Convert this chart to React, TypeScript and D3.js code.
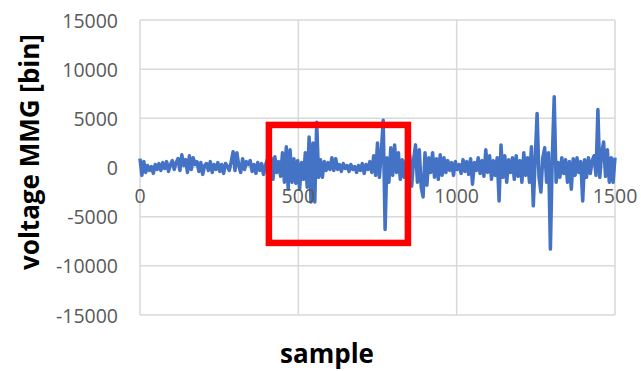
import { useEffect, useRef } from "react";
import * as d3 from "d3";

// one reading every 6 samples, 0..1500
const sampleStep = 6;
const voltage = [
  900, -800, 600, -500, 200, -300, 100, -600, 300, -200,
  400, -300, 500, -100, 600, -400, 300, 700, -200, 500,
  900, -300, 1300, 200, 800, -500, 1200, -200, 1000, 300,
  600, -400, 500, -700, 200, 400, -300, 600, -500, 300,
  -200, 500, -400, 300, -600, 400, 100, -300, 600, 1600,
  -300, 1500, 200, -500, 900, -200, 600, 300, 700, -400,
  300, -600, 500, -300, 400, -700, 200, 800, -1000, 1000,
  -1200, 1100, -500, 600, -900, 1500, -1500, 2100, -2200, 1800,
  -1500, 900, -1600, 700, -2200, 500, -1200, 1500, -2000, 3100,
  -3500, 2500, -3500, 4600, -1000, 800, -1000, 600, -300, 500,
  -200, 1000, -300, 900, -200, 300, -400, 400, -100, 200,
  -400, 300, -200, 100, -500, 200, -300, 400, -600, 300,
  -200, 600, -500, 1200, -800, 2500, -1000, 1600, 4800, -6300,
  1000, -1500, 2000, -800, 2300, -500, 1500, -1200, 800, -1000,
  700, -500, 1200, -1900, 800, 2300, -1500, 1800, -2000, -3000,
  1500, -1800, 1000, -500, 1500, -1000, 900, -1200, 1300, -800,
  1000, -500, 700, -300, 500, -800, 600, -200, 300, -600,
  800, -400, 600, -700, 900, -1700, 500, -300, 1000, -600,
  700, -900, 1800, -500, 1200, -1200, 700, -800, 1000, -3400,
  2300, -1000, 1200, -1500, 800, -500, 1000, -1200, 1200, -900,
  700, -1500, 1500, -800, 1000, -1500, 2100, -3900, 800, 5500,
  -1000, -2500, 1000, 2000, -1500, 1500, -8300, 1000, 7200, -1500,
  500, -1000, 1000, -600, 800, -1500, 600, -2200, 900, -800,
  1000, -500, 600, -3400, 800, -1000, 1000, -600, 700, 1200,
  -800, 5900, -1000, 1500, 2600, -900, 1800, -1500, 1000, -1500,
  1000,
];

const xTicks = [0, 500, 1000, 1500];
const yTicks = [15000, 10000, 5000, 0, -5000, -10000, -15000];
// highlighted region [x0, x1, yTop, yBottom]
const highlight = [407, 846, 4330, -7670];

function App() {
  const ref = useRef<SVGSVGElement>(null);

  useEffect(() => {
    draw();
    // eslint-disable-next-line
  }, []);

  function draw() {
    const svg = d3.select(ref.current);
    svg.selectAll("*").remove();

    const x = d3.scaleLinear().domain([0, 1500]).range([140, 615]);
    const y = d3.scaleLinear().domain([-15000, 15000]).range([315, 20]);
    const font = "'Open Sans', sans-serif";

    // grid
    svg.append("g")
      .selectAll("line")
      .data(yTicks)
      .enter()
      .append("line")
      .attr("x1", x(0))
      .attr("x2", x(1500))
      .attr("y1", d => y(d))
      .attr("y2", d => y(d))
      .attr("stroke", "#d9d9d9")
      .attr("stroke-width", 1.5);

    svg.append("g")
      .selectAll("line")
      .data(xTicks)
      .enter()
      .append("line")
      .attr("x1", d => x(d))
      .attr("x2", d => x(d))
      .attr("y1", y(15000))
      .attr("y2", y(-15000))
      .attr("stroke", "#d9d9d9")
      .attr("stroke-width", 1.5);

    // y tick labels
    svg.append("g")
      .selectAll("text")
      .data(yTicks)
      .enter()
      .append("text")
      .attr("x", 118)
      .attr("y", d => y(d))
      .attr("text-anchor", "end")
      .attr("dominant-baseline", "central")
      .attr("font-family", font)
      .attr("font-size", 19.5)
      .attr("fill", "#595959")
      .text(d => d);

    // signal
    const line = d3.line<number>()
      .x((_, i) => x(i * sampleStep))
      .y(d => y(d));

    svg.append("path")
      .datum(voltage)
      .attr("d", line)
      .attr("fill", "none")
      .attr("stroke", "#4472c4")
      .attr("stroke-width", 3.5)
      .attr("stroke-linejoin", "round");

    // x tick labels sit under the zero line
    svg.append("g")
      .selectAll("text")
      .data(xTicks)
      .enter()
      .append("text")
      .attr("x", d => x(d))
      .attr("y", y(0) + 28)
      .attr("text-anchor", "middle")
      .attr("dominant-baseline", "central")
      .attr("font-family", font)
      .attr("font-size", 19.5)
      .attr("fill", "#595959")
      .text(d => d);

    // red box
    const [hx0, hx1, hy0, hy1] = highlight;
    svg.append("rect")
      .attr("x", x(hx0))
      .attr("y", y(hy0))
      .attr("width", x(hx1) - x(hx0))
      .attr("height", y(hy1) - y(hy0))
      .attr("fill", "none")
      .attr("stroke", "#ff0000")
      .attr("stroke-width", 6.5);

    svg.append("text")
      .attr("transform", `translate(39,152) rotate(-90)`)
      .attr("text-anchor", "middle")
      .attr("font-family", font)
      .attr("font-weight", "bold")
      .attr("font-size", 26)
      .attr("fill", "#000")
      .text("voltage MMG [bin]");

    svg.append("text")
      .attr("x", 327)
      .attr("y", 363)
      .attr("text-anchor", "middle")
      .attr("font-family", font)
      .attr("font-weight", "bold")
      .attr("font-size", 26)
      .attr("fill", "#000")
      .text("sample");
  }

  return (
    <div>
      <svg ref={ref} width={641} height={371}
        style={{ position: "absolute", left: 0, top: 0, background: "#fff" }}>
      </svg>
    </div>
  );
}

export default App;
